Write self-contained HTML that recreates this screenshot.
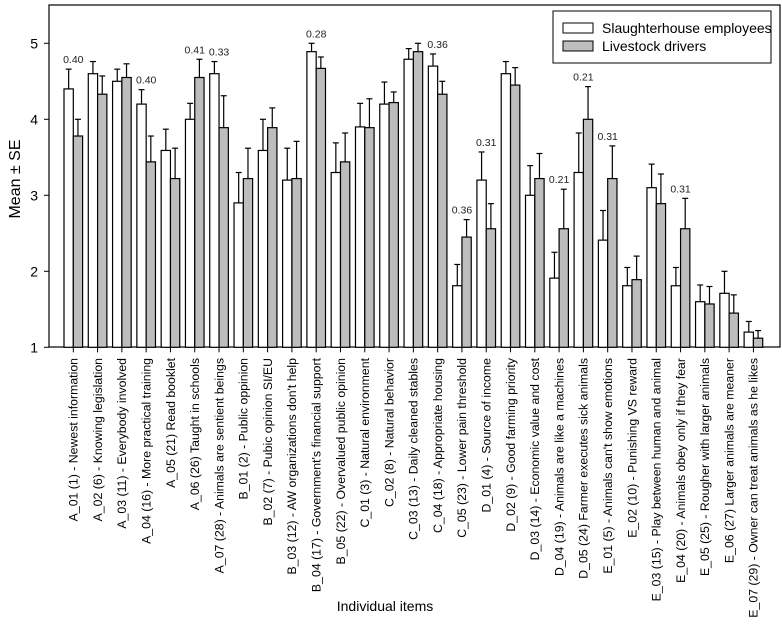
<!DOCTYPE html>
<html><head><meta charset="utf-8"><style>
html,body{margin:0;padding:0;background:#fff;}
svg{display:block;font-family:"Liberation Sans",Arial,sans-serif;}
</style></head><body>
<svg id="chart" width="782" height="624" viewBox="0 0 782 624">
<rect x="49" y="5" width="731" height="342" fill="none" stroke="#000" stroke-width="1.2"/>
<g id="yaxis"></g>
<g id="bars"></g>
<g id="xaxis"></g>
<text x="20" y="179" font-size="16" text-anchor="middle" transform="rotate(-90 20 179)">Mean ± SE</text>
<text x="385" y="611" font-size="14" text-anchor="middle">Individual items</text>
<g>
<rect x="553" y="11" width="218" height="52" fill="#fff" stroke="#000" stroke-width="1"/>
<rect x="563" y="23" width="30" height="10" fill="#fff" stroke="#000"/>
<text x="602" y="33" font-size="14">Slaughterhouse employees</text>
<rect x="563" y="41" width="30" height="10" fill="#bdbdbd" stroke="#000"/>
<text x="602" y="51" font-size="14">Livestock drivers</text>
</g>
</svg>
<script>
const categories = ["A_01 (1) - Newest information","A_02 (6) - Knowing legislation","A_03 (11) - Everybody involved","A_04 (16) - More practical training","A_05 (21) Read booklet","A_06 (26) Taught in schools","A_07 (28) - Animals are sentient beings","B_01 (2) - Public oppinion","B_02 (7) - Pubic opinion SI/EU","B_03 (12) - AW organizations don't help","B_04 (17) - Government's financial support","B_05 (22) - Overvalued public opinion","C_01 (3) - Natural environment","C_02 (8) - Natural behavior","C_03 (13) - Daily cleaned stables","C_04 (18) - Appropriate housing","C_05 (23) - Lower pain threshold","D_01 (4) - Source of income","D_02 (9) - Good farming priority","D_03 (14) - Economic value and cost","D_04 (19) - Animals are like a machines","D_05 (24) Farmer executes sick animals","E_01 (5) - Animals can't show emotions","E_02 (10) - Punishing VS reward","E_03 (15) - Play between human and animal","E_04 (20) - Animals obey only if they fear","E_05 (25) - Rougher with larger animals","E_06 (27) Larger animals are meaner","E_07 (29) - Owner can treat animals as he likes"];
const slaughterMean = [4.4,4.6,4.5,4.2,3.59,4.0,4.6,2.9,3.59,3.2,4.89,3.3,3.9,4.2,4.79,4.7,1.81,3.2,4.6,3.0,1.91,3.3,2.41,1.81,3.1,1.81,1.6,1.71,1.2];
const slaughterSE = [0.26,0.16,0.16,0.19,0.28,0.21,0.16,0.4,0.41,0.42,0.11,0.39,0.31,0.29,0.14,0.16,0.28,0.37,0.16,0.39,0.34,0.52,0.39,0.24,0.31,0.24,0.22,0.29,0.14];
const driverMean = [3.78,4.33,4.55,3.44,3.22,4.55,3.89,3.22,3.89,3.22,4.67,3.44,3.89,4.22,4.89,4.33,2.45,2.56,4.45,3.22,2.56,4.0,3.22,1.89,2.89,2.56,1.57,1.45,1.12];
const driverSE = [0.22,0.24,0.18,0.34,0.4,0.24,0.42,0.4,0.26,0.49,0.15,0.38,0.38,0.14,0.11,0.17,0.23,0.33,0.23,0.33,0.52,0.43,0.43,0.31,0.39,0.4,0.23,0.24,0.1];
const annotations = ["0.40","","","0.40","","0.41","0.33","","","","0.28","","","","","0.36","0.36","0.31","","","0.21","0.21","0.31","","","0.31","","",""];
const yTicks = [1,2,3,4,5];

const NS="http://www.w3.org/2000/svg";
const y0=347.3, ppu=76;
function yScale(v){return y0-(v-1)*ppu;}
function xScale(i){return 64+i*24.29;}
const bw=9.3;
function mk(tag,attrs,parent){const e=document.createElementNS(NS,tag);for(const k in attrs)e.setAttribute(k,attrs[k]);parent.appendChild(e);return e;}
const ya=document.getElementById('yaxis'), bars=document.getElementById('bars'), xa=document.getElementById('xaxis');
yTicks.forEach(t=>{
  const y=yScale(t);
  const l=mk('line',{x1:44,x2:49,y1:y,y2:y,stroke:'#000'},ya);
  
  
  const tx=mk('text',{x:38,y:y+5,'font-size':14,'text-anchor':'end'},ya);
  tx.textContent=t;
  
  
});
function errBar(x,top,bottom,parent){
  const g=mk('g',{stroke:'#000','stroke-width':1.2},parent);
  mk('line',{x1:x,x2:x,y1:top,y2:bottom},g);
  mk('line',{x1:x-3,x2:x+3,y1:top,y2:top},g);
  return g;
}
categories.forEach((c,i)=>{
  const x=xScale(i);
  const yw=yScale(slaughterMean[i]), yg=yScale(driverMean[i]);
  const ew=yScale(slaughterMean[i]+slaughterSE[i]), eg=yScale(driverMean[i]+driverSE[i]);
  const e1=errBar(x+bw/2,ew,yw,bars);
  
  
  const e2=errBar(x+bw*1.5,eg,yg,bars);
  
  
  const r1=mk('rect',{x:x,y:yw,width:bw,height:y0-yw,fill:'#fff',stroke:'#000','stroke-width':1.2},bars);
  
  
  const r2=mk('rect',{x:x+bw,y:yg,width:bw,height:y0-yg,fill:'#bdbdbd',stroke:'#000','stroke-width':1.2},bars);
  
  
  if(annotations[i]){
    const a=mk('text',{x:x+bw,y:Math.min(ew,eg)-6,'font-size':10.5,'text-anchor':'middle',fill:'#222'},bars);
    a.textContent=annotations[i];
    
    
  }
  const cx=x+bw;
  const tk=mk('line',{x1:cx,x2:cx,y1:y0,y2:y0+5,stroke:'#000'},xa);
  
  
  const lb=mk('text',{x:cx+4.3,y:358,'font-size':12.3,'text-anchor':'end',transform:'rotate(-90 '+(cx+4.3)+' 358)'},xa);
  lb.textContent=c;
  
  
});
</script>
</body></html>
